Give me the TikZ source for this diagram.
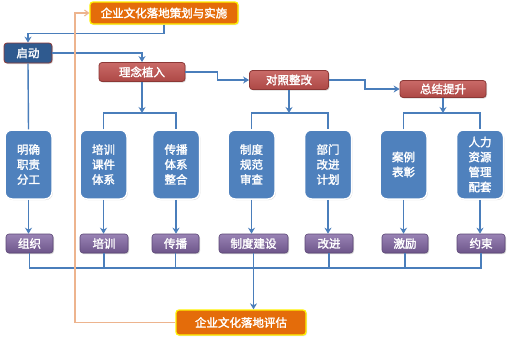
\documentclass[tikz,border=0pt]{standalone}
\usepackage{fontspec}
\setmainfont{Noto Sans CJK SC}[AutoFakeBold=2]
\usetikzlibrary{arrows.meta,shadows}
\definecolor{cblue}{HTML}{4F81BD}
\definecolor{clink}{HTML}{4A7EBB}
\definecolor{cred}{HTML}{C0504D}
\definecolor{credd}{HTML}{8C3836}
\definecolor{cpur}{HTML}{8064A2}
\definecolor{cpurd}{HTML}{5C4776}
\definecolor{corg}{HTML}{E46C0A}
\definecolor{ctan}{HTML}{EDB48E}
\definecolor{cnavy}{HTML}{2F5A8F}
\tikzset{
  lbl/.style={text=white,font=\fontsize{11.5}{14}\selectfont\bfseries,align=center,inner sep=0pt},
  orgbox/.style={lbl,rounded corners=3pt,fill=corg,draw=yellow,line width=1.3pt,drop shadow={opacity=0.25,shadow xshift=1pt,shadow yshift=-1pt}},
  redbox/.style={lbl,rounded corners=3pt,top color=cred!85!white,bottom color=cred!90!black,draw=credd,line width=0.8pt,drop shadow={opacity=0.3,shadow xshift=1pt,shadow yshift=-1pt}},
  navybox/.style={lbl,rounded corners=3pt,fill=cnavy,draw=credd,line width=0.8pt,drop shadow={opacity=0.3,shadow xshift=1pt,shadow yshift=-1pt}},
  midbox/.style={lbl,font=\fontsize{11.5}{15}\selectfont\bfseries,rounded corners=7pt,fill=cblue,draw=white,line width=1.5pt,minimum width=47pt,minimum height=69pt,drop shadow={opacity=0.3,shadow xshift=0.8pt,shadow yshift=-1pt}},
  purbox/.style={lbl,rounded corners=3pt,top color=cpur!80!white,bottom color=cpur!85!black,draw=cpurd,line width=0.6pt,minimum height=19pt,drop shadow={opacity=0.35,shadow xshift=1pt,shadow yshift=-1.2pt}},
  conn/.style={draw=clink,line width=1.4pt},
  arr/.style={conn,-{Stealth[length=6pt,width=7pt]}},
  tanline/.style={draw=ctan,line width=1.1pt,-{Straight Barb[length=4pt,width=6pt]}}
}
\begin{document}
\begin{tikzpicture}[x=1pt,y=-1pt]
\useasboundingbox[fill=white] (0,0) rectangle (510,338);
% top level
\node[orgbox,minimum width=148pt,minimum height=22pt] (top) at (164,13) {企业文化落地策划与实施};
\node[navybox,minimum width=48pt,minimum height=20pt] (qd) at (28,53) {启动};
\node[redbox,minimum width=86pt,minimum height=19pt] (lnzr) at (142,72) {理念植入};
\node[redbox,minimum width=79pt,minimum height=19pt] (dzzg) at (289,80) {对照整改};
\node[redbox,minimum width=86pt,minimum height=17pt] (zjts) at (443,89) {总结提升};
% middle boxes
\node[midbox] (m1) at (28.5,164.5) {明确\\职责\\分工};
\node[midbox] (m2) at (103.5,164.5) {培训\\课件\\体系};
\node[midbox] (m3) at (176,164.5) {传播\\体系\\整合};
\node[midbox] (m4) at (251.5,164.5) {制度\\规范\\审查};
\node[midbox] (m5) at (328,164.5) {部门\\改进\\计划};
\node[midbox] (m6) at (403.5,164.5) {案例\\表彰};
\node[midbox] (m7) at (480,164.5) {人力\\资源\\管理\\配套};
% purple boxes
\node[purbox,minimum width=47pt] (p1) at (29.5,243.5) {组织};
\node[purbox,minimum width=48pt] (p2) at (104,243.5) {培训};
\node[purbox,minimum width=47pt] (p3) at (175.5,243.5) {传播};
\node[purbox,minimum width=69pt] (p4) at (253.5,243.5) {制度建设};
\node[purbox,minimum width=48pt] (p5) at (329,243.5) {改进};
\node[purbox,minimum width=46pt] (p6) at (405,243.5) {激励};
\node[purbox,minimum width=48pt] (p7) at (481,243.5) {约束};
% bottom
\node[orgbox,minimum width=130pt,minimum height=25pt] (bot) at (241,322.5) {企业文化落地评估};
% helper coordinates
\coordinate (barA) at (0,113);
\coordinate (barB) at (0,268);
\coordinate (tl) at (75,0);
% connectors
\draw[arr] (top.south) -- ++(0,9) -| (qd.north);
\draw[arr] (qd.east) -| (lnzr.north);
\draw[arr] (lnzr.east) -- ++(32,0) |- (dzzg.west);
\draw[arr] (dzzg.east) -- ++(36,0) |- (zjts.west);
\draw[conn] (qd.south) -- (m1.north);
\draw[arr] (lnzr.south) -- (lnzr.south |- barA);
\draw[conn] (m2.north) -- (m2.north |- barA) -- (m3.north |- barA) -- (m3.north);
\draw[arr] (dzzg.south) -- (dzzg.south |- barA);
\draw[conn] (m4.north) -- (m4.north |- barA) -- (m5.north |- barA) -- (m5.north);
\draw[arr] (zjts.south) -- (zjts.south |- barA);
\draw[conn] (m6.north) -- (m6.north |- barA) -- (m7.north |- barA) -- (m7.north);
\foreach \i in {1,...,7}{
  \draw[arr] (m\i.south) -- (m\i.south |- p\i.north);
}
\draw[conn] (p1.south) -- (p1.south |- barB) -- (p7.south |- barB) -- (p7.south);
\foreach \i in {2,3,5,6}{
  \draw[conn] (p\i.south) -- (p\i.south |- barB);
}
\draw[arr] (p4.south) -- (p4.south |- bot.north);
\draw[tanline] (bot.west) -| (tl |- top.west) -- (top.west);
\end{tikzpicture}
\end{document}
